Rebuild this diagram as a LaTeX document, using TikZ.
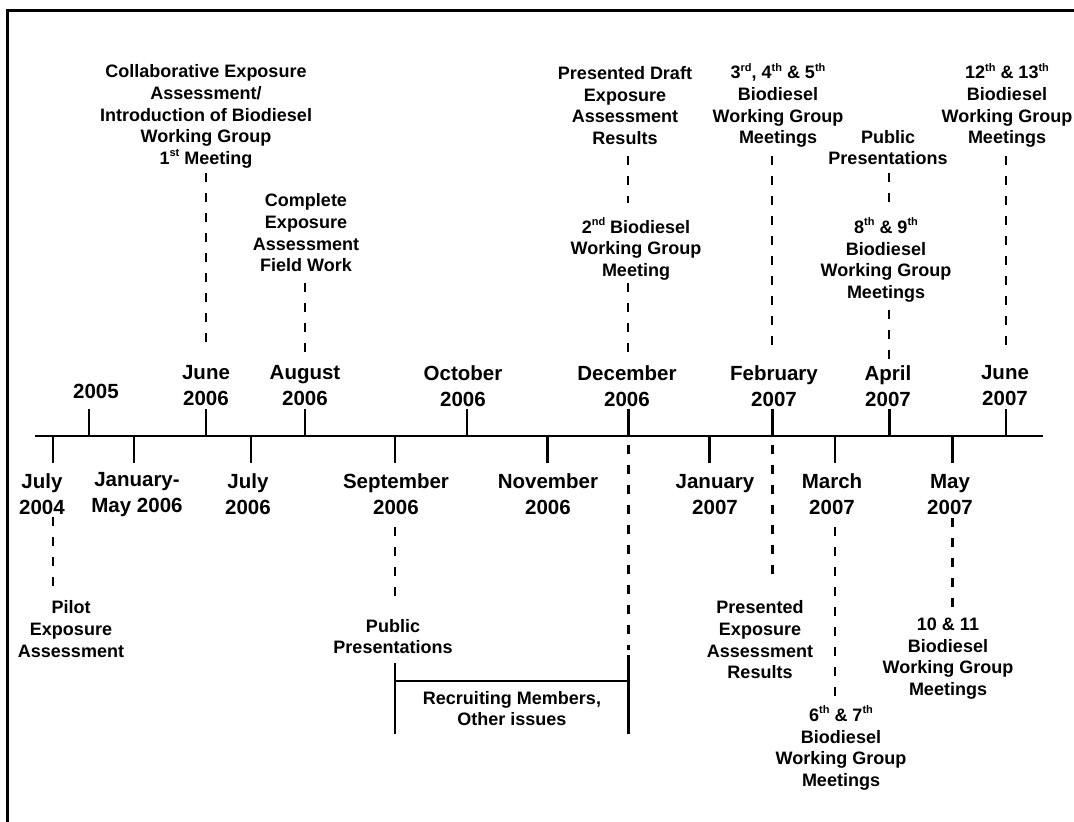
\documentclass[tikz,border=0pt]{standalone}
\usepackage{fontspec}
\setmainfont{Liberation Sans}
% small raised ordinal suffix (st, nd, rd, th)
\newcommand\ordsup[1]{\raisebox{0.42em}{\fontsize{11}{11}\selectfont #1}}

\begin{document}
\begin{tikzpicture}[x=1pt,y=-1pt,
  datelbl/.style={font=\fontsize{20.5}{26}\selectfont\bfseries, align=center, inner sep=0pt},
  eventlbl/.style={font=\fontsize{18}{21.7}\selectfont\bfseries, align=center, inner sep=0pt},
  axisline/.style={line width=2.5pt},
  tickline/.style={line width=2.3pt},
  leader/.style={line width=2.5pt, dash pattern=on 9pt off 11pt},
  solidlead/.style={line width=2.4pt},
  frameline/.style={line width=2.2pt}]

\useasboundingbox (0,0) rectangle (1074,822);

% outer frame (top and left edges)
\coordinate (frameBL) at (7.5,822);
\coordinate (frameTL) at (7.5,10.5);
\coordinate (frameTR) at (1074,10.5);
\draw[frameline] (frameBL) -- (frameTL) -- (frameTR);

% main time axis
\coordinate (axisL) at (35,436);
\coordinate (axisR) at (1043,436);
\draw[axisline] (axisL) -- (axisR);

% ticks above the axis
\foreach \n/\x in {y2005/89, jun06/206, aug06/305, oct06/467, dec06/628.5, feb07/772.5, apr07/889.5, jun07/1006}{
  \coordinate (\n-a) at (\x,436);
  \coordinate (\n-t) at (\x,409);
  \draw[tickline] (\n-a) -- (\n-t);
}
% ticks below the axis
\foreach \n/\x in {jul04/53, janmay06/134, jul06/251, sep06/395, nov06/547.5, jan07/709.5, mar07/835, may07/952.5}{
  \coordinate (\n-a) at (\x,436);
  \coordinate (\n-b) at (\x,463);
  \draw[tickline] (\n-a) -- (\n-b);
}

% dates above the axis
\node[datelbl] (l-y2005) at (96,391) {2005};
\node[datelbl] (l-jun06) at (206,386) {June\\2006};
\node[datelbl] (l-aug06) at (305,386) {August\\2006};
\node[datelbl] (l-oct06) at (463,386) {October\\2006};
\node[datelbl] (l-dec06) at (627,386) {December\\2006};
\node[datelbl] (l-feb07) at (774,386) {February\\2007};
\node[datelbl] (l-apr07) at (888,386) {April\\2007};
\node[datelbl] (l-jun07) at (1005,386) {June\\2007};

% dates below the axis
\node[datelbl] (l-jul04) at (42,494.5) {July\\2004};
\node[datelbl] (l-janmay06) at (137,494.5) {January-\\May 2006};
\node[datelbl] (l-jul06) at (248,494.5) {July\\2006};
\node[datelbl] (l-sep06) at (396,494.5) {September\\2006};
\node[datelbl] (l-nov06) at (548,494.5) {November\\2006};
\node[datelbl] (l-jan07) at (715,494.5) {January\\2007};
\node[datelbl] (l-mar07) at (832,494.5) {March\\2007};
\node[datelbl] (l-may07) at (950,494.5) {May\\2007};

% events above the axis
\node[eventlbl] (e-collab) at (206,116.5) {Collaborative Exposure\\Assessment/\\Introduction of Biodiesel\\Working Group\\1\ordsup{st} Meeting};
\node[eventlbl] (e-field) at (306,233) {Complete\\Exposure\\Assessment\\Field Work};
\node[eventlbl] (e-draft) at (625,105.5) {Presented Draft\\Exposure\\Assessment\\Results};
\node[eventlbl] (e-wg2) at (636,249) {2\ordsup{nd} Biodiesel\\Working Group\\Meeting};
\node[eventlbl] (e-wg345) at (778,105.5) {3\ordsup{rd}, 4\ordsup{th} \& 5\ordsup{th}\\Biodiesel\\Working Group\\Meetings};
\node[eventlbl] (e-pubA) at (888,147.5) {Public\\Presentations};
\node[eventlbl] (e-wg89) at (886,260) {8\ordsup{th} \& 9\ordsup{th}\\Biodiesel\\Working Group\\Meetings};
\node[eventlbl] (e-wg1213) at (1007,105.5) {12\ordsup{th} \& 13\ordsup{th}\\Biodiesel\\Working Group\\Meetings};

% events below the axis
\node[eventlbl] (e-pilot) at (71,629) {Pilot\\Exposure\\Assessment};
\node[eventlbl] (e-pubB) at (393,636.5) {Public\\Presentations};
\node[eventlbl] (e-recruit) at (512,708.5) {Recruiting Members,\\Other issues};
\node[eventlbl] (e-results) at (760,640) {Presented\\Exposure\\Assessment\\Results};
\node[eventlbl] (e-wg67) at (841,748) {6\ordsup{th} \& 7\ordsup{th}\\Biodiesel\\Working Group\\Meetings};
\node[eventlbl] (e-wg1011) at (948,658.5) {10 \& 11\\Biodiesel\\Working Group\\Meetings};

% dashed leaders above the axis
\coordinate (k-collab-s) at (206,173);  \coordinate (k-collab-e) at (206,353);
\coordinate (k-field-s) at (305,283);   \coordinate (k-field-e) at (305,353);
\coordinate (k-draft-s) at (628,156);   \coordinate (k-draft-e) at (628,203);
\coordinate (k-wg2-s) at (628,283);     \coordinate (k-wg2-e) at (628,353);
\coordinate (k-wg345-s) at (772,156);   \coordinate (k-wg345-e) at (772,354);
\coordinate (k-pubA-s) at (889,173);    \coordinate (k-pubA-e) at (889,205);
\coordinate (k-wg89-s) at (889,310);    \coordinate (k-wg89-e) at (889,362);
\coordinate (k-wg1213-s) at (1006,156); \coordinate (k-wg1213-e) at (1006,353);
\draw[leader] (k-collab-s) -- (k-collab-e);
\draw[leader] (k-field-s) -- (k-field-e);
\draw[leader] (k-draft-s) -- (k-draft-e);
\draw[leader] (k-wg2-s) -- (k-wg2-e);
\draw[leader] (k-wg345-s) -- (k-wg345-e);
\draw[leader] (k-pubA-s) -- (k-pubA-e);
\draw[leader] (k-wg89-s) -- (k-wg89-e);
\draw[leader] (k-wg1213-s) -- (k-wg1213-e);

% dashed leaders below the axis
\coordinate (k-pilot-s) at (53,517);     \coordinate (k-pilot-e) at (53,590);
\coordinate (k-pubB-s) at (395,527);     \coordinate (k-pubB-e) at (395,599);
\coordinate (k-dec-s) at (628.5,445);    \coordinate (k-dec-e) at (628.5,650);
\coordinate (k-results-s) at (772.5,445);\coordinate (k-results-e) at (772.5,583);
\coordinate (k-wg67-s) at (835,527);     \coordinate (k-wg67-e) at (835,698);
\coordinate (k-wg1011-s) at (952.5,518); \coordinate (k-wg1011-e) at (952.5,607);
\draw[leader] (k-pilot-s) -- (k-pilot-e);
\draw[leader] (k-pubB-s) -- (k-pubB-e);
\draw[leader] (k-dec-s) -- (k-dec-e);
\draw[leader] (k-results-s) -- (k-results-e);
\draw[leader] (k-wg67-s) -- (k-wg67-e);
\draw[leader] (k-wg1011-s) -- (k-wg1011-e);

% bracket spanning September to December 2006
\coordinate (b-left-t) at (395,663);   \coordinate (b-left-b) at (395,734);
\coordinate (b-right-t) at (628.5,655);\coordinate (b-right-b) at (628.5,734);
\coordinate (b-bar-l) at (395,681);    \coordinate (b-bar-r) at (628.5,681);
\draw[solidlead] (b-left-t) -- (b-left-b);
\draw[solidlead] (b-right-t) -- (b-right-b);
\draw[solidlead] (b-bar-l) -- (b-bar-r);
\end{tikzpicture}
\end{document}
